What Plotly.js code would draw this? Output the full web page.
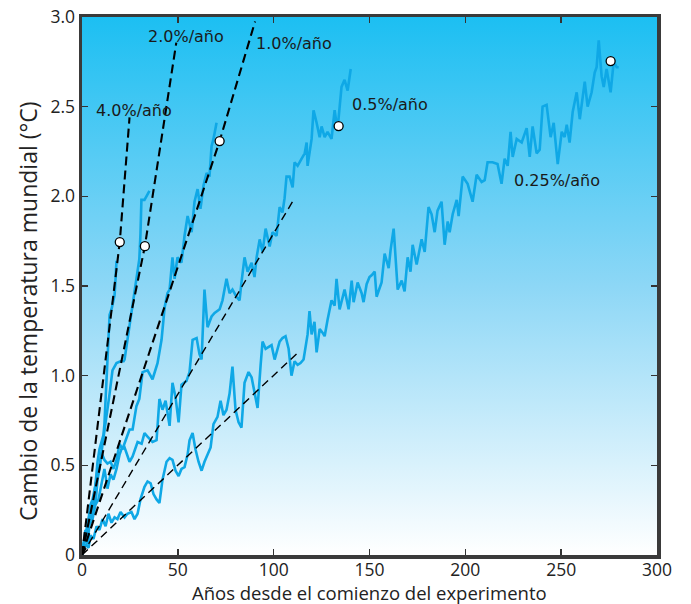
<!DOCTYPE html>
<html><head><meta charset="utf-8">
<script src="https://cdn.plot.ly/plotly-3.0.1.min.js"></script>
<style>html,body{margin:0;padding:0;background:#fff;}#chart{width:691px;height:604px;}</style>
</head><body><div id="chart"></div>
<script>
// ---- series: 4.0 %/año ----
const x40 = [0,0.8,1.8,2.9,3.9,5.0,6.0,7.0,8.1,9.1,10.2,11.2,11.7,12.3,12.8,13.3,13.8,14.4,15.4,15.9,17.0,17.5,18.0];
const y40 = [0,0.06,0.09,0.15,0.20,0.26,0.31,0.39,0.52,0.59,0.63,0.67,0.73,0.87,0.98,1.06,1.20,1.34,1.37,1.40,1.45,1.54,1.64];
// ---- series: 2.0 %/año ----
const x20 = [0,1.3,2.3,3.4,4.4,5.5,6.5,7.6,9.1,10.7,11.7,12.8,14.4,15.9,18.0,20.1,21.7,22.2,23.7,24.8,26.4,28.4,29.9,30.5,31.0,32.6,34.2,35.2];
const y20 = [0,0.09,0.14,0.20,0.28,0.31,0.37,0.42,0.49,0.61,0.70,0.76,0.90,1.03,1.07,1.08,1.08,1.09,1.20,1.27,1.41,1.54,1.65,1.79,1.98,1.98,2.01,2.03];
// ---- series: 1.0 %/año ----
const x10 = [0,0.8,1.8,2.9,3.9,5.0,6.0,7.0,8.1,9.1,10.2,11.7,13.3,14.9,16.4,18.0,19.6,21.1,22.7,24.8,26.4,28.4,29.9,31.6,34.2,36.8,39.4,41.5,43.1,44.6,45.7,47.2,48.3,49.8,51.9,53.5,55.1,57.2,58.7,60.3,61.8,63.4,65.0,66.5,67.6,68.6,70.2];
const y10 = [0,0.06,0.14,0.10,0.23,0.20,0.31,0.28,0.42,0.48,0.57,0.53,0.51,0.52,0.48,0.53,0.62,0.59,0.64,0.70,0.70,0.83,0.87,1.02,1.03,0.98,1.07,1.20,1.38,1.46,1.48,1.66,1.54,1.66,1.63,1.78,1.89,1.80,1.97,2.04,1.93,2.06,2.13,2.11,2.28,2.32,2.41];
// ---- series: 0.5 %/año ----
const x05 = [0,1.3,2.9,3.9,5.5,7.0,8.6,10.2,11.7,13.3,14.9,16.4,18.0,19.6,20.6,22.2,24.8,26.4,29.0,31.1,32.6,34.2,36.8,38.9,40.4,42.0,43.6,45.7,47.2,48.8,50.4,51.9,54.5,56.1,57.7,59.8,61.3,62.4,63.9,65.5,67.6,69.2,71.8,73.3,75.4,77.0,78.5,80.6,82.2,83.2,84.8,86.4,88.5,90.0,91.1,92.7,94.2,95.8,97.9,99.4,101.5,103.1,104.6,105.7,106.7,108.3,109.9,110.9,112.5,114.6,116.2,117.2,117.7,119.8,120.8,122.4,124.0,125.0,126.6,128.1,130.2,131.8,133.3,135.4,137.0,138.6,140.2];
const y05 = [0,0.09,0.06,0.17,0.20,0.28,0.31,0.39,0.48,0.37,0.45,0.42,0.48,0.56,0.59,0.60,0.52,0.55,0.63,0.62,0.68,0.66,0.63,0.64,0.87,0.81,0.86,0.72,0.96,0.88,0.74,0.95,0.97,1.02,1.20,1.21,1.12,1.09,1.48,1.27,1.33,1.35,1.37,1.42,1.54,1.46,1.48,1.44,1.42,1.52,1.66,1.58,1.63,1.55,1.66,1.76,1.69,1.82,1.72,1.80,1.78,1.94,1.91,1.99,2.11,2.11,2.05,2.19,2.17,2.21,2.24,2.30,2.17,2.32,2.48,2.41,2.33,2.39,2.33,2.36,2.32,2.48,2.37,2.61,2.65,2.59,2.71];
// ---- series: 0.25 %/año ----
const x025 = [0,1.8,3.4,4.4,6.0,7.6,9.1,10.7,12.3,13.8,15.4,17.0,18.5,20.1,22.2,23.7,25.8,27.4,29.0,30.5,32.6,34.2,35.8,37.3,38.9,40.4,42.0,44.1,45.7,47.2,48.8,50.4,51.9,53.5,55.1,56.1,57.7,59.2,60.8,62.4,63.9,65.5,67.1,68.6,70.7,72.3,73.8,75.4,77.0,78.5,80.1,81.7,83.2,84.8,86.9,88.5,90.0,91.6,93.2,94.2,95.8,97.3,98.9,100.5,102.0,103.1,104.6,106.2,107.8,109.3,110.9,112.5,114.0,115.6,117.7,118.7,119.8,121.3,122.4,124.0,125.5,126.6,128.1,130.2,131.8,132.8,134.4,136.0,137.0,139.1,140.7,141.7,143.8,145.9,146.9,148.5,150.0,151.1,152.7,153.7,155.3,156.3,157.9,160.0,161.0,162.6,164.7,166.8,168.3,169.9,171.4,172.5,174.6,176.1,177.2,178.8,180.8,182.4,184.0,185.5,187.6,189.2,190.8,191.8,193.4,195.5,196.5,198.6,201.2,203.8,205.9,208.5,210.1,211.6,214.2,216.8,218.9,220.5,222.1,223.6,224.7,226.8,229.4,232.0,233.6,235.1,237.2,238.8,240.3,242.4,244.5,246.1,248.2,250.3,251.8,252.9,254.4,256.0,258.1,259.7,262.3,263.8,265.9,267.5,268.5,269.6,271.1,272.2,273.7,275.8,277.4,279.0,280.0];
const y025 = [0,0.06,0.04,0.11,0.09,0.16,0.14,0.20,0.16,0.23,0.18,0.21,0.20,0.24,0.21,0.23,0.24,0.20,0.23,0.31,0.38,0.41,0.40,0.34,0.31,0.29,0.42,0.52,0.54,0.53,0.47,0.44,0.48,0.49,0.56,0.64,0.68,0.59,0.52,0.47,0.52,0.56,0.60,0.73,0.77,0.86,0.78,0.81,0.90,1.05,0.81,0.74,0.71,0.96,1.02,0.99,0.90,0.82,1.06,1.19,1.15,1.16,1.17,1.09,1.15,1.19,1.21,1.22,1.15,1.00,1.08,1.06,1.07,1.09,1.23,1.36,1.23,1.30,1.13,1.26,1.24,1.22,1.31,1.42,1.39,1.54,1.37,1.45,1.48,1.37,1.53,1.41,1.52,1.46,1.41,1.51,1.55,1.56,1.58,1.44,1.49,1.52,1.68,1.60,1.70,1.82,1.48,1.53,1.47,1.66,1.58,1.73,1.62,1.71,1.76,1.69,1.94,1.90,1.80,1.92,1.97,1.73,1.86,1.80,1.90,1.98,1.89,2.11,2.07,1.97,2.12,2.08,2.09,2.19,2.19,2.18,2.07,2.21,2.17,2.36,2.22,2.32,2.30,2.38,2.22,2.39,2.24,2.26,2.50,2.51,2.33,2.41,2.18,2.36,2.33,2.40,2.30,2.47,2.58,2.43,2.64,2.50,2.58,2.69,2.72,2.87,2.67,2.61,2.71,2.58,2.75,2.72,2.72];

// ---- dashed reference lines ----
const dash40x = [0,19.7,24.8],  dash40y = [0,1.745,2.44];
const dash20x = [0,32.8,49.2],  dash20y = [0,1.722,2.857];
const dash10x = [0,71.8,90.3],  dash10y = [0,2.308,2.975];
const dash05x = [0,110.0],      dash05y = [0,1.973];
const dash025x = [0,112.6],     dash025y = [0,1.128];

// ---- open circles ----
const circX = [19.7,32.8,71.8,133.9,275.8];
const circY = [1.745,1.722,2.308,2.392,2.754];

// ---- labels ----
const rateLabels = ['4.0%/año','2.0%/año','1.0%/año','0.5%/año','0.25%/año'];
const labelX = [6.5,33.3,89.5,139.8,224.2];
const labelY = [2.48,2.89,2.85,2.51,2.09];

const xTicks = [0,50,100,150,200,250,300];
const xTickText = ['0','50','100','150','200','250','300'];
const yTicks = [0,0.5,1.0,1.5,2.0,2.5,3.0];
const yTickText = ['0','0.5','1.0','1.5','2.0','2.5','3.0'];
const xTitle = 'Años desde el comienzo del experimento';
const yTitle = 'Cambio de la temperatura mundial (°C)';

const BLUE = '#0fa8e6';
const traces = [];
[[x40,y40],[x20,y20],[x10,y10],[x05,y05],[x025,y025]].forEach(s => {
  traces.push({x:s[0], y:s[1], type:'scatter', mode:'lines',
    line:{color:BLUE, width:2.6, shape:'linear'}, hoverinfo:'skip', showlegend:false});
});
[[dash40x,dash40y,2.1,'9px,5px'],[dash20x,dash20y,2.1,'9px,5px'],[dash10x,dash10y,2.1,'9px,5px'],
 [dash05x,dash05y,1.4,'8px,5px'],[dash025x,dash025y,1.4,'8px,5px']].forEach(d => {
  traces.push({x:d[0], y:d[1], type:'scatter', mode:'lines',
    line:{color:'#000', width:d[2], dash:d[3]}, hoverinfo:'skip', showlegend:false});
});
traces.push({x:circX, y:circY, type:'scatter', mode:'markers',
  marker:{size:9, color:'#ffffff', line:{color:'#000', width:1.3}}, hoverinfo:'skip', showlegend:false});

const gradSvg = '<svg xmlns="http://www.w3.org/2000/svg" width="10" height="100" viewBox="0 0 10 100" preserveAspectRatio="none">' +
  '<defs><linearGradient id="g" x1="0" y1="0" x2="0" y2="1">' +
  '<stop offset="0" stop-color="#1cbff2"/><stop offset="0.5" stop-color="#8dd7f6"/><stop offset="1" stop-color="#ffffff"/>' +
  '</linearGradient></defs><rect x="0" y="0" width="10" height="100" fill="url(#g)"/></svg>';
const gradUri = 'data:image/svg+xml;charset=utf-8,' + encodeURIComponent(gradSvg);

const FONT = 'Open Sans, sans-serif';
const axisCommon = {
  showgrid:false, zeroline:false, showline:true, linecolor:'#3a3a3a', linewidth:3.5,
  mirror:'ticks', ticks:'inside', ticklen:6, tickwidth:1.5, tickcolor:'#333',
  tickfont:{family:FONT, size:17.5, color:'#222'}, fixedrange:true
};
const annots = rateLabels.map((t,i) => ({x:labelX[i], y:labelY[i], xref:'x', yref:'y', text:t,
    showarrow:false, xanchor:'left', yanchor:'middle',
    font:{family:'DejaVu Sans, Verdana, sans-serif', size:16, color:'#1a1a1a'}}));
annots.push({text:xTitle, xref:'paper', yref:'paper', x:0.5, y:-0.0705, xanchor:'center', yanchor:'middle',
  borderpad:0, showarrow:false, font:{family:FONT, size:18.5, color:'#222'}});
annots.push({text:yTitle, xref:'paper', yref:'paper', x:-0.0939, y:0.4535, xanchor:'center', yanchor:'middle',
  textangle:-90, showarrow:false, font:{family:FONT, size:23, color:'#222'}});

const layout = {
  width:691, height:604,
  margin:{l:82, r:34, t:17, b:49, pad:0},
  paper_bgcolor:'#ffffff', plot_bgcolor:'rgba(0,0,0,0)',
  showlegend:false,
  xaxis:Object.assign({}, axisCommon, {range:[0,300], tickvals:xTicks, ticktext:xTickText, ticklabelstandoff:-4}),
  yaxis:Object.assign({}, axisCommon, {range:[0,3], tickvals:yTicks, ticktext:yTickText}),
  images:[{source:gradUri, xref:'paper', yref:'paper', x:0, y:1, sizex:1, sizey:1,
    sizing:'stretch', xanchor:'left', yanchor:'top', layer:'below'}],
  annotations: annots
};
Plotly.newPlot('chart', traces, layout, {staticPlot:true, displayModeBar:false});
</script></body></html>
